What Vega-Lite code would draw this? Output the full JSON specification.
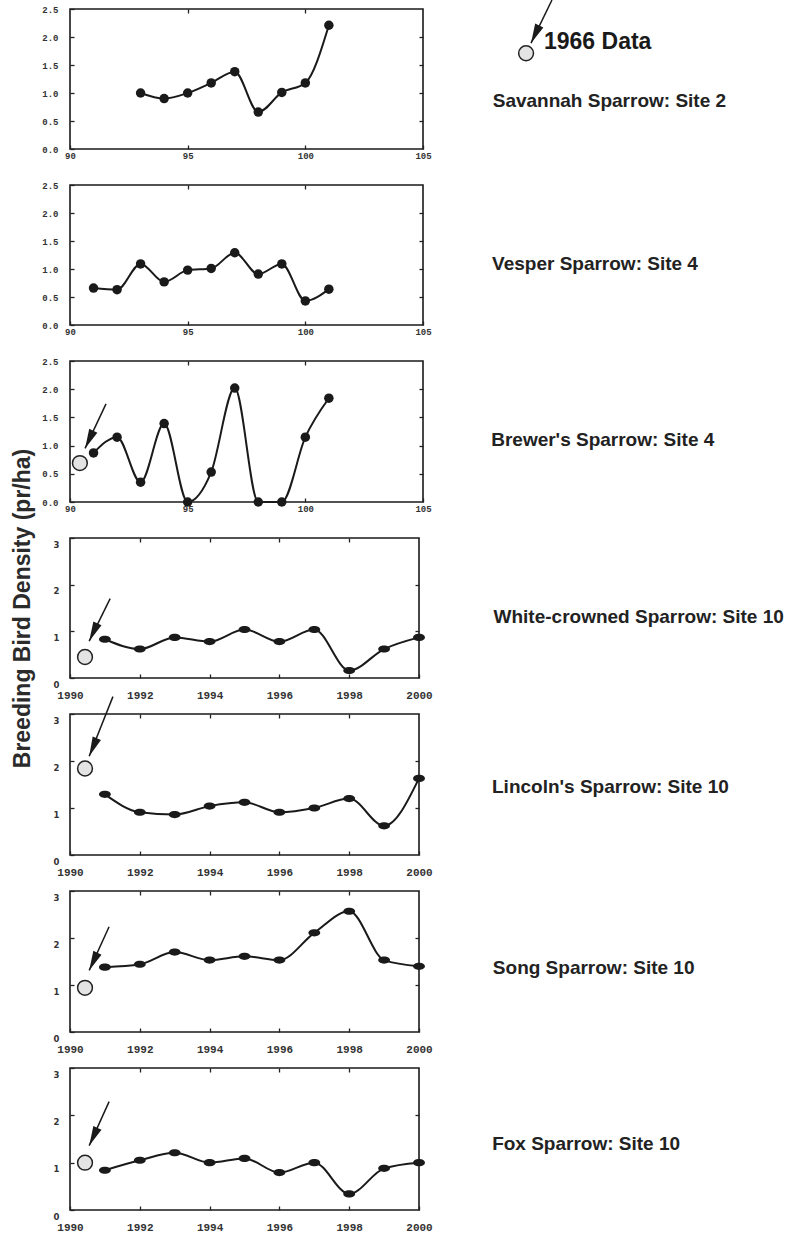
{
  "$schema": "https://vega.github.io/schema/vega-lite/v6.json",
  "background": "white",
  "padding": {"left": 10, "top": -2, "right": 0, "bottom": 0},
  "spacing": 36,
  "bounds": "flush",
  "config": {
    "view": {"stroke": "#1a1a1a", "strokeWidth": 1.6},
    "axis": {"domain": false, "grid": false, "tickSize": -4, "tickColor": "#222", "tickWidth": 1.3, "labelColor": "#333", "labelFontWeight": "bold", "labelOverlap": false, "labelFlush": false}
  },
  "vconcat": [
    {
      "width": 353, "height": 140,
      "title": {"text": "Savannah Sparrow: Site 2", "orient": "right", "angle": 0, "align": "left", "baseline": "middle", "anchor": "middle", "frame": "group", "offset": -392, "dy": 22, "font": "Liberation Sans", "fontSize": 19, "fontWeight": "bold", "color": "#222"},
      "layer": [
        {
          "data": {"values": [{"year": 93, "density": 1.0}, {"year": 94, "density": 0.9}, {"year": 95, "density": 1.0}, {"year": 96, "density": 1.18}, {"year": 97, "density": 1.38}, {"year": 98, "density": 0.66}, {"year": 99, "density": 1.01}, {"year": 100, "density": 1.18}, {"year": 101, "density": 2.21}]},
          "layer": [
            {"mark": {"type": "line", "interpolate": "monotone", "color": "#1a1a1a", "strokeWidth": 2},
             "encoding": {
               "x": {"field": "year", "type": "quantitative", "scale": {"domain": [90, 105], "nice": false, "zero": false}, "axis": {"orient": "bottom", "values": [90, 95, 100, 105], "title": null, "labelFont": "Liberation Mono", "labelFontSize": 9, "labelPadding": 6}},
               "y": {"field": "density", "type": "quantitative", "scale": {"domain": [0, 2.5], "nice": false}, "axis": {"orient": "left", "values": [0, 0.5, 1, 1.5, 2, 2.5], "format": ".1f", "title": null, "labelFont": "Liberation Mono", "labelFontSize": 9, "labelPadding": 16}}
             }},
            {"mark": {"type": "point", "filled": true, "color": "#1a1a1a", "size": 90, "opacity": 1},
             "encoding": {
               "x": {"field": "year", "type": "quantitative", "axis": {"orient": "top", "values": [95, 100], "labels": false, "title": null}},
               "y": {"field": "density", "type": "quantitative", "axis": {"orient": "right", "values": [0.5, 1, 1.5, 2], "labels": false, "title": null}}
             }}
          ]
        },
        {
          "data": {"values": [{"x": 110.48, "y": 2.66, "x2": 109.59, "y2": 1.89}]},
          "layer": [
            {"mark": {"type": "rule", "color": "#1a1a1a", "strokeWidth": 1.5},
             "encoding": {"x": {"field": "x", "type": "quantitative", "axis": null}, "y": {"field": "y", "type": "quantitative", "axis": null}, "x2": {"field": "x2"}, "y2": {"field": "y2"}}},
            {"mark": {"type": "point", "filled": true, "color": "#1a1a1a", "opacity": 1, "size": 900, "angle": 205, "shape": "M0,0L0.3,1.3L-0.3,1.3Z"},
             "encoding": {"x": {"field": "x2", "type": "quantitative", "axis": null}, "y": {"field": "y2", "type": "quantitative", "axis": null}}}
          ]
        },
        {
          "data": {"values": [{"x": 109.38, "y": 1.71, "label": "1966 Data", "lx": 110.14, "ly": 1.91}]},
          "layer": [
            {"mark": {"type": "point", "filled": true, "fill": "#e4e4e4", "stroke": "#222", "strokeWidth": 1.5, "size": 220, "opacity": 1},
             "encoding": {"x": {"field": "x", "type": "quantitative", "axis": null}, "y": {"field": "y", "type": "quantitative", "axis": null}}},
            {"mark": {"type": "text", "align": "left", "baseline": "middle", "font": "Liberation Sans", "fontSize": 23, "fontWeight": "bold", "color": "#1a1a1a"},
             "encoding": {"x": {"field": "lx", "type": "quantitative", "axis": null}, "y": {"field": "ly", "type": "quantitative", "axis": null}, "text": {"field": "label"}}}
          ]
        }
      ],
      "resolve": {"axis": {"x": "independent", "y": "independent"}}
    },
    {
      "width": 353, "height": 140,
      "title": {"text": "Vesper Sparrow: Site 4", "orient": "right", "angle": 0, "align": "left", "baseline": "middle", "anchor": "middle", "frame": "group", "offset": -145, "dy": 9, "font": "Liberation Sans", "fontSize": 19, "fontWeight": "bold", "color": "#222"},
      "data": {"values": [{"year": 91, "density": 0.66}, {"year": 92, "density": 0.63}, {"year": 93, "density": 1.09}, {"year": 94, "density": 0.77}, {"year": 95, "density": 0.98}, {"year": 96, "density": 1.01}, {"year": 97, "density": 1.29}, {"year": 98, "density": 0.91}, {"year": 99, "density": 1.09}, {"year": 100, "density": 0.43}, {"year": 101, "density": 0.64}]},
      "layer": [
        {"mark": {"type": "line", "interpolate": "monotone", "color": "#1a1a1a", "strokeWidth": 2},
         "encoding": {
           "x": {"field": "year", "type": "quantitative", "scale": {"domain": [90, 105], "nice": false, "zero": false}, "axis": {"orient": "bottom", "values": [90, 95, 100, 105], "title": null, "labelFont": "Liberation Mono", "labelFontSize": 9, "labelPadding": 6}},
           "y": {"field": "density", "type": "quantitative", "scale": {"domain": [0, 2.5], "nice": false}, "axis": {"orient": "left", "values": [0, 0.5, 1, 1.5, 2, 2.5], "format": ".1f", "title": null, "labelFont": "Liberation Mono", "labelFontSize": 9, "labelPadding": 16}}
         }},
        {"mark": {"type": "point", "filled": true, "color": "#1a1a1a", "size": 90, "opacity": 1},
         "encoding": {
           "x": {"field": "year", "type": "quantitative", "axis": {"orient": "top", "values": [95, 100], "labels": false, "title": null}},
           "y": {"field": "density", "type": "quantitative", "axis": {"orient": "right", "values": [0.5, 1, 1.5, 2], "labels": false, "title": null}}
         }}
      ],
      "resolve": {"axis": {"x": "independent", "y": "independent"}}
    },
    {
      "width": 353, "height": 141,
      "title": {"text": "Brewer's Sparrow: Site 4", "orient": "right", "angle": 0, "align": "left", "baseline": "middle", "anchor": "middle", "frame": "group", "offset": -163, "dy": 8, "font": "Liberation Sans", "fontSize": 19, "fontWeight": "bold", "color": "#222"},
      "layer": [
        {
          "data": {"values": [{"year": 91, "density": 0.87}, {"year": 92, "density": 1.15}, {"year": 93, "density": 0.35}, {"year": 94, "density": 1.39}, {"year": 95, "density": 0.0}, {"year": 96, "density": 0.53}, {"year": 97, "density": 2.02}, {"year": 98, "density": 0.0}, {"year": 99, "density": 0.0}, {"year": 100, "density": 1.15}, {"year": 101, "density": 1.84}]},
          "layer": [
            {"mark": {"type": "line", "interpolate": "monotone", "color": "#1a1a1a", "strokeWidth": 2},
             "encoding": {
               "x": {"field": "year", "type": "quantitative", "scale": {"domain": [90, 105], "nice": false, "zero": false}, "axis": {"orient": "bottom", "values": [90, 95, 100, 105], "title": null, "labelFont": "Liberation Mono", "labelFontSize": 9, "labelPadding": 6}},
               "y": {"field": "density", "type": "quantitative", "scale": {"domain": [0, 2.5], "nice": false}, "axis": {"orient": "left", "values": [0, 0.5, 1, 1.5, 2, 2.5], "format": ".1f", "title": null, "labelFont": "Liberation Mono", "labelFontSize": 9, "labelPadding": 16}}
             }},
            {"mark": {"type": "point", "filled": true, "color": "#1a1a1a", "size": 90, "opacity": 1},
             "encoding": {
               "x": {"field": "year", "type": "quantitative", "axis": {"orient": "top", "values": [95, 100], "labels": false, "title": null}},
               "y": {"field": "density", "type": "quantitative", "axis": {"orient": "right", "values": [0.5, 1, 1.5, 2], "labels": false, "title": null}}
             }}
          ]
        },
        {
          "data": {"values": [{"x": 91.53, "y": 1.74, "x2": 90.64, "y2": 0.95}]},
          "layer": [
            {"mark": {"type": "rule", "color": "#1a1a1a", "strokeWidth": 1.5},
             "encoding": {"x": {"field": "x", "type": "quantitative", "axis": null}, "y": {"field": "y", "type": "quantitative", "axis": null}, "x2": {"field": "x2"}, "y2": {"field": "y2"}}},
            {"mark": {"type": "point", "filled": true, "color": "#1a1a1a", "opacity": 1, "size": 900, "angle": 205, "shape": "M0,0L0.3,1.3L-0.3,1.3Z"},
             "encoding": {"x": {"field": "x2", "type": "quantitative", "axis": null}, "y": {"field": "y2", "type": "quantitative", "axis": null}}}
          ]
        },
        {
          "data": {"values": [{"x": 90.42, "y": 0.69}]},
          "mark": {"type": "point", "filled": true, "fill": "#e4e4e4", "stroke": "#222", "strokeWidth": 1.5, "size": 220, "opacity": 1},
          "encoding": {"x": {"field": "x", "type": "quantitative", "axis": null}, "y": {"field": "y", "type": "quantitative", "axis": null}}
        }
      ],
      "resolve": {"axis": {"x": "independent", "y": "independent"}}
    },
    {
      "width": 349, "height": 140,
      "title": {"text": "White-crowned Sparrow: Site 10", "orient": "right", "angle": 0, "align": "left", "baseline": "middle", "anchor": "middle", "frame": "group", "offset": -229, "dy": 9, "font": "Liberation Sans", "fontSize": 19, "fontWeight": "bold", "color": "#222"},
      "layer": [
        {
          "data": {"values": [{"year": 1991, "density": 0.83}, {"year": 1992, "density": 0.62}, {"year": 1993, "density": 0.87}, {"year": 1994, "density": 0.78}, {"year": 1995, "density": 1.04}, {"year": 1996, "density": 0.78}, {"year": 1997, "density": 1.04}, {"year": 1998, "density": 0.16}, {"year": 1999, "density": 0.62}, {"year": 2000, "density": 0.87}]},
          "layer": [
            {"mark": {"type": "line", "interpolate": "monotone", "color": "#1a1a1a", "strokeWidth": 2},
             "encoding": {
               "x": {"field": "year", "type": "quantitative", "scale": {"domain": [1990, 2000], "nice": false, "zero": false}, "axis": {"orient": "bottom", "values": [1990, 1992, 1994, 1996, 1998, 2000], "format": "d", "title": null, "labelFont": "Liberation Mono", "labelFontSize": 11, "labelPadding": 15}},
               "y": {"field": "density", "type": "quantitative", "scale": {"domain": [0, 3], "nice": false}, "axis": {"orient": "left", "values": [0, 1, 2, 3], "labelFont": "DejaVu Sans", "labelFontSize": 8.5, "labelPadding": 15, "labelOffset": 6, "title": "Breeding Bird Density (pr/ha)", "titleFont": "Liberation Sans", "titleFontSize": 23, "titleFontWeight": "bold", "titleColor": "#2b2b2b", "titleX": -41, "titleY": 70, "titleAngle": 270, "titleAlign": "center", "titleBaseline": "alphabetic"}}
             }},
            {"mark": {"type": "point", "filled": true, "color": "#1a1a1a", "size": 140, "opacity": 1, "shape": "M-1,0A1,0.6,0,1,0,1,0A1,0.6,0,1,0,-1,0Z"},
             "encoding": {
               "x": {"field": "year", "type": "quantitative", "axis": {"orient": "top", "values": [1992, 1994, 1996, 1998], "labels": false, "title": null}},
               "y": {"field": "density", "type": "quantitative", "axis": {"orient": "right", "values": [1, 2], "labels": false, "title": null}}
             }}
          ]
        },
        {
          "data": {"values": [{"x": 1991.15, "y": 1.7, "x2": 1990.55, "y2": 0.79}]},
          "layer": [
            {"mark": {"type": "rule", "color": "#1a1a1a", "strokeWidth": 1.5},
             "encoding": {"x": {"field": "x", "type": "quantitative", "axis": null}, "y": {"field": "y", "type": "quantitative", "axis": null}, "x2": {"field": "x2"}, "y2": {"field": "y2"}}},
            {"mark": {"type": "point", "filled": true, "color": "#1a1a1a", "opacity": 1, "size": 900, "angle": 205, "shape": "M0,0L0.3,1.3L-0.3,1.3Z"},
             "encoding": {"x": {"field": "x2", "type": "quantitative", "axis": null}, "y": {"field": "y2", "type": "quantitative", "axis": null}}}
          ]
        },
        {
          "data": {"values": [{"x": 1990.43, "y": 0.45}]},
          "mark": {"type": "point", "filled": true, "fill": "#e4e4e4", "stroke": "#222", "strokeWidth": 1.5, "size": 220, "opacity": 1},
          "encoding": {"x": {"field": "x", "type": "quantitative", "axis": null}, "y": {"field": "y", "type": "quantitative", "axis": null}}
        }
      ],
      "resolve": {"axis": {"x": "independent", "y": "independent"}}
    },
    {
      "width": 349, "height": 141,
      "title": {"text": "Lincoln's Sparrow: Site 10", "orient": "right", "angle": 0, "align": "left", "baseline": "middle", "anchor": "middle", "frame": "group", "offset": -177, "dy": 2, "font": "Liberation Sans", "fontSize": 19, "fontWeight": "bold", "color": "#222"},
      "layer": [
        {
          "data": {"values": [{"year": 1991, "density": 1.29}, {"year": 1992, "density": 0.91}, {"year": 1993, "density": 0.86}, {"year": 1994, "density": 1.04}, {"year": 1995, "density": 1.12}, {"year": 1996, "density": 0.91}, {"year": 1997, "density": 1.0}, {"year": 1998, "density": 1.2}, {"year": 1999, "density": 0.62}, {"year": 2000, "density": 1.63}]},
          "layer": [
            {"mark": {"type": "line", "interpolate": "monotone", "color": "#1a1a1a", "strokeWidth": 2},
             "encoding": {
               "x": {"field": "year", "type": "quantitative", "scale": {"domain": [1990, 2000], "nice": false, "zero": false}, "axis": {"orient": "bottom", "values": [1990, 1992, 1994, 1996, 1998, 2000], "format": "d", "title": null, "labelFont": "Liberation Mono", "labelFontSize": 11, "labelPadding": 15}},
               "y": {"field": "density", "type": "quantitative", "scale": {"domain": [0, 3], "nice": false}, "axis": {"orient": "left", "values": [0, 1, 2, 3], "title": null, "labelFont": "DejaVu Sans", "labelFontSize": 8.5, "labelPadding": 15, "labelOffset": 6}}
             }},
            {"mark": {"type": "point", "filled": true, "color": "#1a1a1a", "size": 140, "opacity": 1, "shape": "M-1,0A1,0.6,0,1,0,1,0A1,0.6,0,1,0,-1,0Z"},
             "encoding": {
               "x": {"field": "year", "type": "quantitative", "axis": {"orient": "top", "values": [1992, 1994, 1996, 1998], "labels": false, "title": null}},
               "y": {"field": "density", "type": "quantitative", "axis": {"orient": "right", "values": [1, 2], "labels": false, "title": null}}
             }}
          ]
        },
        {
          "data": {"values": [{"x": 1991.23, "y": 3.37, "x2": 1990.55, "y2": 2.1}]},
          "layer": [
            {"mark": {"type": "rule", "color": "#1a1a1a", "strokeWidth": 1.5},
             "encoding": {"x": {"field": "x", "type": "quantitative", "axis": null}, "y": {"field": "y", "type": "quantitative", "axis": null}, "x2": {"field": "x2"}, "y2": {"field": "y2"}}},
            {"mark": {"type": "point", "filled": true, "color": "#1a1a1a", "opacity": 1, "size": 900, "angle": 203, "shape": "M0,0L0.3,1.3L-0.3,1.3Z"},
             "encoding": {"x": {"field": "x2", "type": "quantitative", "axis": null}, "y": {"field": "y2", "type": "quantitative", "axis": null}}}
          ]
        },
        {
          "data": {"values": [{"x": 1990.43, "y": 1.84}]},
          "mark": {"type": "point", "filled": true, "fill": "#e4e4e4", "stroke": "#222", "strokeWidth": 1.5, "size": 220, "opacity": 1},
          "encoding": {"x": {"field": "x", "type": "quantitative", "axis": null}, "y": {"field": "y", "type": "quantitative", "axis": null}}
        }
      ],
      "resolve": {"axis": {"x": "independent", "y": "independent"}}
    },
    {
      "width": 349, "height": 141,
      "title": {"text": "Song Sparrow: Site 10", "orient": "right", "angle": 0, "align": "left", "baseline": "middle", "anchor": "middle", "frame": "group", "offset": -141, "dy": 6, "font": "Liberation Sans", "fontSize": 19, "fontWeight": "bold", "color": "#222"},
      "layer": [
        {
          "data": {"values": [{"year": 1991, "density": 1.38}, {"year": 1992, "density": 1.44}, {"year": 1993, "density": 1.7}, {"year": 1994, "density": 1.53}, {"year": 1995, "density": 1.61}, {"year": 1996, "density": 1.53}, {"year": 1997, "density": 2.11}, {"year": 1998, "density": 2.57}, {"year": 1999, "density": 1.53}, {"year": 2000, "density": 1.4}]},
          "layer": [
            {"mark": {"type": "line", "interpolate": "monotone", "color": "#1a1a1a", "strokeWidth": 2},
             "encoding": {
               "x": {"field": "year", "type": "quantitative", "scale": {"domain": [1990, 2000], "nice": false, "zero": false}, "axis": {"orient": "bottom", "values": [1990, 1992, 1994, 1996, 1998, 2000], "format": "d", "title": null, "labelFont": "Liberation Mono", "labelFontSize": 11, "labelPadding": 15}},
               "y": {"field": "density", "type": "quantitative", "scale": {"domain": [0, 3], "nice": false}, "axis": {"orient": "left", "values": [0, 1, 2, 3], "title": null, "labelFont": "DejaVu Sans", "labelFontSize": 8.5, "labelPadding": 15, "labelOffset": 6}}
             }},
            {"mark": {"type": "point", "filled": true, "color": "#1a1a1a", "size": 140, "opacity": 1, "shape": "M-1,0A1,0.6,0,1,0,1,0A1,0.6,0,1,0,-1,0Z"},
             "encoding": {
               "x": {"field": "year", "type": "quantitative", "axis": {"orient": "top", "values": [1992, 1994, 1996, 1998], "labels": false, "title": null}},
               "y": {"field": "density", "type": "quantitative", "axis": {"orient": "right", "values": [1, 2], "labels": false, "title": null}}
             }}
          ]
        },
        {
          "data": {"values": [{"x": 1991.12, "y": 2.24, "x2": 1990.55, "y2": 1.31}]},
          "layer": [
            {"mark": {"type": "rule", "color": "#1a1a1a", "strokeWidth": 1.5},
             "encoding": {"x": {"field": "x", "type": "quantitative", "axis": null}, "y": {"field": "y", "type": "quantitative", "axis": null}, "x2": {"field": "x2"}, "y2": {"field": "y2"}}},
            {"mark": {"type": "point", "filled": true, "color": "#1a1a1a", "opacity": 1, "size": 900, "angle": 205, "shape": "M0,0L0.3,1.3L-0.3,1.3Z"},
             "encoding": {"x": {"field": "x2", "type": "quantitative", "axis": null}, "y": {"field": "y2", "type": "quantitative", "axis": null}}}
          ]
        },
        {
          "data": {"values": [{"x": 1990.43, "y": 0.94}]},
          "mark": {"type": "point", "filled": true, "fill": "#e4e4e4", "stroke": "#222", "strokeWidth": 1.5, "size": 220, "opacity": 1},
          "encoding": {"x": {"field": "x", "type": "quantitative", "axis": null}, "y": {"field": "y", "type": "quantitative", "axis": null}}
        }
      ],
      "resolve": {"axis": {"x": "independent", "y": "independent"}}
    },
    {
      "width": 349, "height": 142,
      "title": {"text": "Fox Sparrow: Site 10", "orient": "right", "angle": 0, "align": "left", "baseline": "middle", "anchor": "middle", "frame": "group", "offset": -128, "dy": 5, "font": "Liberation Sans", "fontSize": 19, "fontWeight": "bold", "color": "#222"},
      "layer": [
        {
          "data": {"values": [{"year": 1991, "density": 0.84}, {"year": 1992, "density": 1.05}, {"year": 1993, "density": 1.21}, {"year": 1994, "density": 1.0}, {"year": 1995, "density": 1.09}, {"year": 1996, "density": 0.79}, {"year": 1997, "density": 1.0}, {"year": 1998, "density": 0.34}, {"year": 1999, "density": 0.88}, {"year": 2000, "density": 1.0}]},
          "layer": [
            {"mark": {"type": "line", "interpolate": "monotone", "color": "#1a1a1a", "strokeWidth": 2},
             "encoding": {
               "x": {"field": "year", "type": "quantitative", "scale": {"domain": [1990, 2000], "nice": false, "zero": false}, "axis": {"orient": "bottom", "values": [1990, 1992, 1994, 1996, 1998, 2000], "format": "d", "title": null, "labelFont": "Liberation Mono", "labelFontSize": 11, "labelPadding": 15}},
               "y": {"field": "density", "type": "quantitative", "scale": {"domain": [0, 3], "nice": false}, "axis": {"orient": "left", "values": [0, 1, 2, 3], "title": null, "labelFont": "DejaVu Sans", "labelFontSize": 8.5, "labelPadding": 15, "labelOffset": 6}}
             }},
            {"mark": {"type": "point", "filled": true, "color": "#1a1a1a", "size": 140, "opacity": 1, "shape": "M-1,0A1,0.6,0,1,0,1,0A1,0.6,0,1,0,-1,0Z"},
             "encoding": {
               "x": {"field": "year", "type": "quantitative", "axis": {"orient": "top", "values": [1992, 1994, 1996, 1998], "labels": false, "title": null}},
               "y": {"field": "density", "type": "quantitative", "axis": {"orient": "right", "values": [1, 2], "labels": false, "title": null}}
             }}
          ]
        },
        {
          "data": {"values": [{"x": 1991.12, "y": 2.29, "x2": 1990.55, "y2": 1.36}]},
          "layer": [
            {"mark": {"type": "rule", "color": "#1a1a1a", "strokeWidth": 1.5},
             "encoding": {"x": {"field": "x", "type": "quantitative", "axis": null}, "y": {"field": "y", "type": "quantitative", "axis": null}, "x2": {"field": "x2"}, "y2": {"field": "y2"}}},
            {"mark": {"type": "point", "filled": true, "color": "#1a1a1a", "opacity": 1, "size": 900, "angle": 205, "shape": "M0,0L0.3,1.3L-0.3,1.3Z"},
             "encoding": {"x": {"field": "x2", "type": "quantitative", "axis": null}, "y": {"field": "y2", "type": "quantitative", "axis": null}}}
          ]
        },
        {
          "data": {"values": [{"x": 1990.43, "y": 1.0}]},
          "mark": {"type": "point", "filled": true, "fill": "#e4e4e4", "stroke": "#222", "strokeWidth": 1.5, "size": 220, "opacity": 1},
          "encoding": {"x": {"field": "x", "type": "quantitative", "axis": null}, "y": {"field": "y", "type": "quantitative", "axis": null}}
        }
      ],
      "resolve": {"axis": {"x": "independent", "y": "independent"}}
    }
  ]
}
